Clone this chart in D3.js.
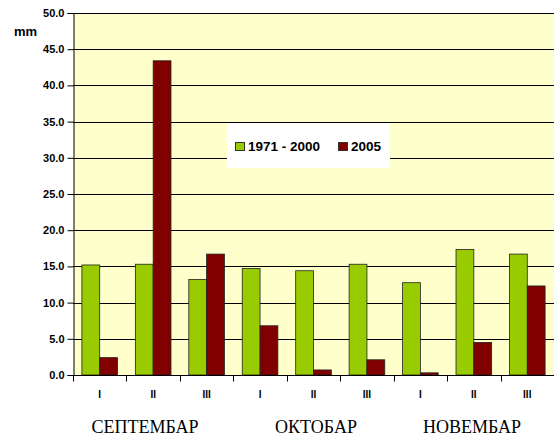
<!DOCTYPE html>
<html lang="sr">
<head>
    <meta charset="utf-8">
    <script src="https://d3js.org/d3.v7.min.js"></script>
    <title>chart</title>
    <style>
        body {margin: 0; background: #fff;}
        svg {display: block;}
        .tick-y {font: bold 11px Arial, "Liberation Sans", sans-serif;}
        .unit {font: bold 13px Arial, "Liberation Sans", sans-serif;}
        .tick-x {font: bold 10px Arial, "Liberation Sans", sans-serif;}
        .month {font: 18px "Times New Roman", "Liberation Serif", serif;}
        .legend {font: bold 13.5px Arial, "Liberation Sans", sans-serif;}
    </style>
</head>
<body>
<svg width="554" height="437"></svg>
<script>
    // dekade po mesecima
    var decades = ['I', 'II', 'III', 'I', 'II', 'III', 'I', 'II', 'III'];
    var months = ['СЕПТЕМБАР', 'ОКТОБАР', 'НОВЕМБАР'];
    var seriesNames = ['1971 - 2000', '2005'];
    var normal = [15.2, 15.3, 13.2, 14.7, 14.4, 15.3, 12.75, 17.35, 16.7];
    var y2005 = [2.4, 43.4, 16.7, 6.8, 0.7, 2.1, 0.3, 4.5, 12.3];
    var yTicks = [0, 5, 10, 15, 20, 25, 30, 35, 40, 45, 50];
    var colors = ['#99cc00', '#800000'];

    var svg = d3.select('svg');
    var pLeft = 73, pRight = 554, pTop = 13, pBottom = 375;

    var x = d3.scaleBand().domain(d3.range(decades.length)).range([pLeft, pRight]).paddingInner(0).paddingOuter(0);
    var x1 = d3.scaleBand().domain([0, 1]).range([0, x.bandwidth()]).paddingOuter(0.5).paddingInner(0);
    var y = d3.scaleLinear().domain([0, 50]).range([pBottom, pTop]);

    // pozadina
    svg.append('rect').attr('x', pLeft).attr('y', pTop)
        .attr('width', pRight - pLeft).attr('height', pBottom - pTop).attr('fill', '#ffffcc');

    // mreza
    svg.append('g').selectAll('line').data(yTicks.slice(1)).enter().append('line')
        .attr('x1', pLeft).attr('x2', pRight)
        .attr('y1', d => Math.round(y(d)) + 0.5).attr('y2', d => Math.round(y(d)) + 0.5)
        .attr('stroke', '#000').attr('stroke-width', 1);

    // stubici
    var data = decades.map((d, i) => [normal[i], y2005[i]]);
    var groups = svg.append('g').selectAll('g').data(data).enter().append('g')
        .attr('transform', (d, i) => 'translate(' + x(i) + ',0)');
    groups.selectAll('rect').data(d => d).enter().append('rect')
        .attr('x', (d, j) => x1(j)).attr('width', x1.bandwidth())
        .attr('y', d => y(d)).attr('height', d => y(0) - y(d))
        .attr('fill', (d, j) => colors[j])
        .attr('stroke', '#222').attr('stroke-width', 0.8);

    // y osa
    var yAxis = d3.axisLeft(y).tickValues(yTicks).tickSize(6).tickPadding(3).tickFormat(d3.format('.1f'));
    var gy = svg.append('g').attr('transform', 'translate(' + (pLeft + 0.5) + ',0)').call(yAxis);
    gy.select('.domain').attr('stroke', '#000');
    gy.selectAll('text').attr('class', 'tick-y').attr('fill', '#000');

    // x osa
    var gx = svg.append('g').attr('transform', 'translate(0,' + (pBottom + 0.5) + ')');
    gx.append('line').attr('x1', pLeft).attr('x2', pRight).attr('stroke', '#000');
    gx.selectAll('.tk').data(d3.range(decades.length + 1)).enter().append('line')
        .attr('x1', i => Math.round(pLeft + i * x.bandwidth()) + 0.5)
        .attr('x2', i => Math.round(pLeft + i * x.bandwidth()) + 0.5)
        .attr('y1', 0).attr('y2', 6).attr('stroke', '#000');
    gx.selectAll('.tick-x').data(decades).enter().append('text')
        .attr('class', 'tick-x').attr('x', (d, i) => x(i) + x.bandwidth() / 2)
        .attr('y', 22).attr('text-anchor', 'middle').text(d => d);

    // meseci
    svg.selectAll('.month').data(months).enter().append('text')
        .attr('class', 'month')
        .attr('x', (d, i) => [145, 316, 472][i])
        .attr('y', 433).attr('text-anchor', 'middle').text(d => d);

    svg.append('text').attr('class', 'unit').attr('x', 14).attr('y', 36).text('mm');

    // legenda
    var lg = svg.append('g');
    lg.append('rect').attr('x', 227).attr('y', 123).attr('width', 163).attr('height', 45).attr('fill', '#fff');
    var lx = [235, 338];
    seriesNames.forEach((n, i) => {
        lg.append('rect').attr('x', lx[i] + 0.5).attr('y', 142.5).attr('width', 9).attr('height', 8)
            .attr('fill', colors[i]).attr('stroke', '#333');
        lg.append('text').attr('class', 'legend').attr('x', lx[i] + 13).attr('y', 151).text(n);
    });
</script>
</body>
</html>
